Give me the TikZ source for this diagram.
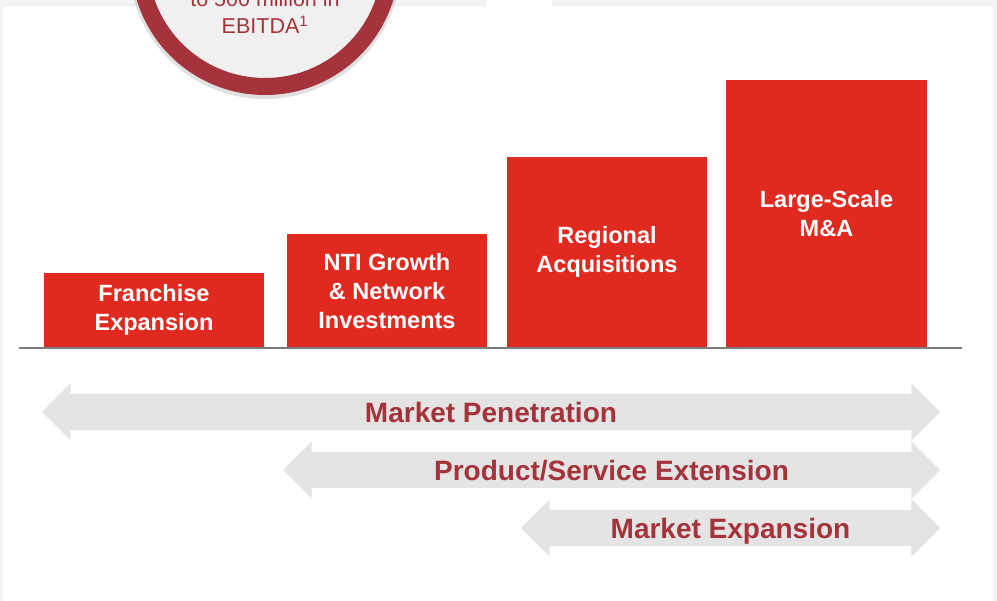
\documentclass[tikz,border=0pt]{standalone}
\usepackage{fontspec}
\setmainfont{Liberation Sans}
\usetikzlibrary{shapes.arrows}

\definecolor{barred}{RGB}{224,42,31}
\definecolor{darkred}{RGB}{165,51,59}
\definecolor{arrowgray}{RGB}{228,228,228}
\definecolor{framegray}{RGB}{243,243,243}
\definecolor{ringfill}{RGB}{240,240,240}
\definecolor{basegray}{RGB}{125,125,125}

\begin{document}
\begin{tikzpicture}[
      x=1pt,
      y=-1pt,
      bar/.style={fill=barred, text=white, align=center, anchor=south,
        inner sep=0pt, font=\fontsize{23.5}{29}\selectfont\bfseries},
      band/.style={double arrow, fill=arrowgray, text=darkred, inner sep=0pt,
        text height=28.5pt, text depth=7.5pt, minimum width=57pt,
        double arrow head extend=10.5pt,
        font=\fontsize{28}{30}\selectfont\bfseries},
      goal/.style={text=darkred, anchor=base, inner sep=0pt,
        font=\fontsize{21.5}{27}\selectfont}]
    \useasboundingbox (0,0) rectangle (997,601);
    \fill[framegray] (0,0) rectangle (997,601);
    \fill[white] (3,6) rectangle (993,601);
    \draw[black!8, line width=1pt] (3,6) -- (993,6);
    \fill[white] (486,0) rectangle (552,6.5);

    % target circle
    \fill[black, opacity=0.12] (265,-37) circle[radius=136];
    \node[circle, draw=darkred, line width=17pt, fill=ringfill,
      minimum size=251pt, inner sep=0pt] (ring) at (265,-39) {};
    \node[goal] (goal1) at (265,7) {to 500 million in};
    \node[goal] (goal2) at (265,34) {EBITDA\textsuperscript{1}};

    % steps
    \node[bar, minimum width=220pt, minimum height=75pt]  (b1) at (154,348)   {Franchise\\Expansion};
    \node[bar, minimum width=200pt, minimum height=114pt] (b2) at (387,348)   {NTI Growth\\\& Network\\Investments};
    \node[bar, minimum width=200pt, minimum height=191pt] (b3) at (607,348)   {Regional\\Acquisitions};
    \node[bar, minimum width=201pt, minimum height=268pt] (b4) at (826.5,348) {Large-Scale\\M\&A};

    \coordinate (axisL) at (19,348);
    \coordinate (axisR) at (962,348);
    \draw[basegray, line width=2.5pt] (axisL) -- (axisR);

    % ranges
    \node[band, minimum height=898pt] (a1) at (491,412)   {Market Penetration};
    \node[band, minimum height=657pt] (a2) at (611.5,470) {Product/Service Extension};
    \node[band, minimum height=419pt] (a3) at (730.5,528) {Market Expansion};

  \end{tikzpicture}
\end{document}
